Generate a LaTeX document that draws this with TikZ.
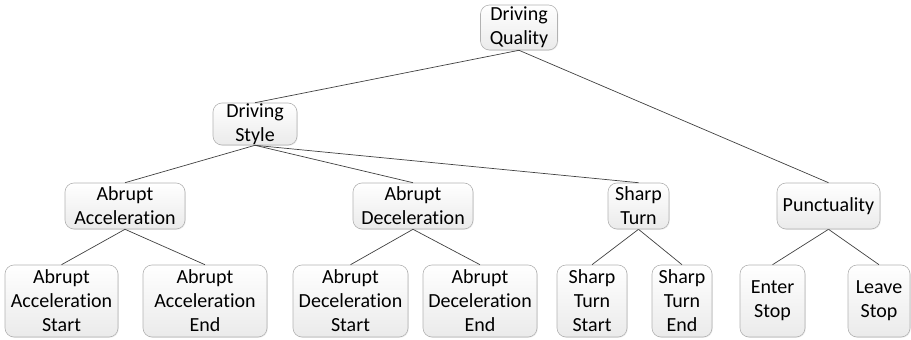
\documentclass[tikz,border=0pt]{standalone}
\usepackage{fontspec}
\setmainfont{Carlito}[Ligatures=NoCommon]
\usetikzlibrary{shadows}
\begin{document}
\begin{tikzpicture}[x=1pt,y=-1pt,
  box/.style={draw=black!30, line width=0.6pt, rounded corners=9pt,
    top color=white, bottom color=black!8, align=center,
    inner sep=0pt, text=black, font=\fontsize{20}{24}\selectfont,
    drop shadow={opacity=0.15, shadow xshift=0.8pt, shadow yshift=-0.8pt}},
  edge/.style={draw=black!75, line width=0.7pt}]
\useasboundingbox (0,0) rectangle (911,340);
\node[box, minimum width=77pt, minimum height=45pt] (dq) at (519,27.5) {Driving\\Quality};
\node[box, minimum width=84pt, minimum height=42pt] (ds) at (255,124) {Driving\\Style};
\node[box, minimum width=120pt, minimum height=46pt] (aa) at (125,206) {Abrupt\\Acceleration};
\node[box, minimum width=120pt, minimum height=46pt] (ad) at (413,206) {Abrupt\\Deceleration};
\node[box, minimum width=61pt, minimum height=46pt] (st) at (638.5,206) {Sharp\\Turn};
\node[box, minimum width=103pt, minimum height=46pt] (pu) at (828.5,206) {Punctuality};
\node[box, minimum width=113pt, minimum height=72pt] (aas) at (61.5,301) {Abrupt\\Acceleration\\Start};
\node[box, minimum width=124pt, minimum height=72pt] (aae) at (205,301) {Abrupt\\Acceleration\\End};
\node[box, minimum width=115pt, minimum height=72pt] (ads) at (350.5,301) {Abrupt\\Deceleration\\Start};
\node[box, minimum width=114pt, minimum height=72pt] (ade) at (480,301) {Abrupt\\Deceleration\\End};
\node[box, minimum width=70pt, minimum height=72pt] (sts) at (592,301) {Sharp\\Turn\\Start};
\node[box, minimum width=60pt, minimum height=72pt] (ste) at (682,301) {Sharp\\Turn\\End};
\node[box, minimum width=65pt, minimum height=72pt] (es) at (772.5,301) {Enter\\Stop};
\node[box, minimum width=62pt, minimum height=72pt] (ls) at (879,301) {Leave\\Stop};
\draw[edge] (dq.south) -- (ds.north);
\draw[edge] (dq.south) -- (pu.north);
\draw[edge] (ds.south) -- (aa.north);
\draw[edge] (ds.south) -- (ad.north);
\draw[edge] (ds.south) -- (st.north);
\draw[edge] (aa.south) -- (aas.north);
\draw[edge] (aa.south) -- (aae.north);
\draw[edge] (ad.south) -- (ads.north);
\draw[edge] (ad.south) -- (ade.north);
\draw[edge] (st.south) -- (sts.north);
\draw[edge] (st.south) -- (ste.north);
\draw[edge] (pu.south) -- (es.north);
\draw[edge] (pu.south) -- (ls.north);
\end{tikzpicture}
\end{document}
